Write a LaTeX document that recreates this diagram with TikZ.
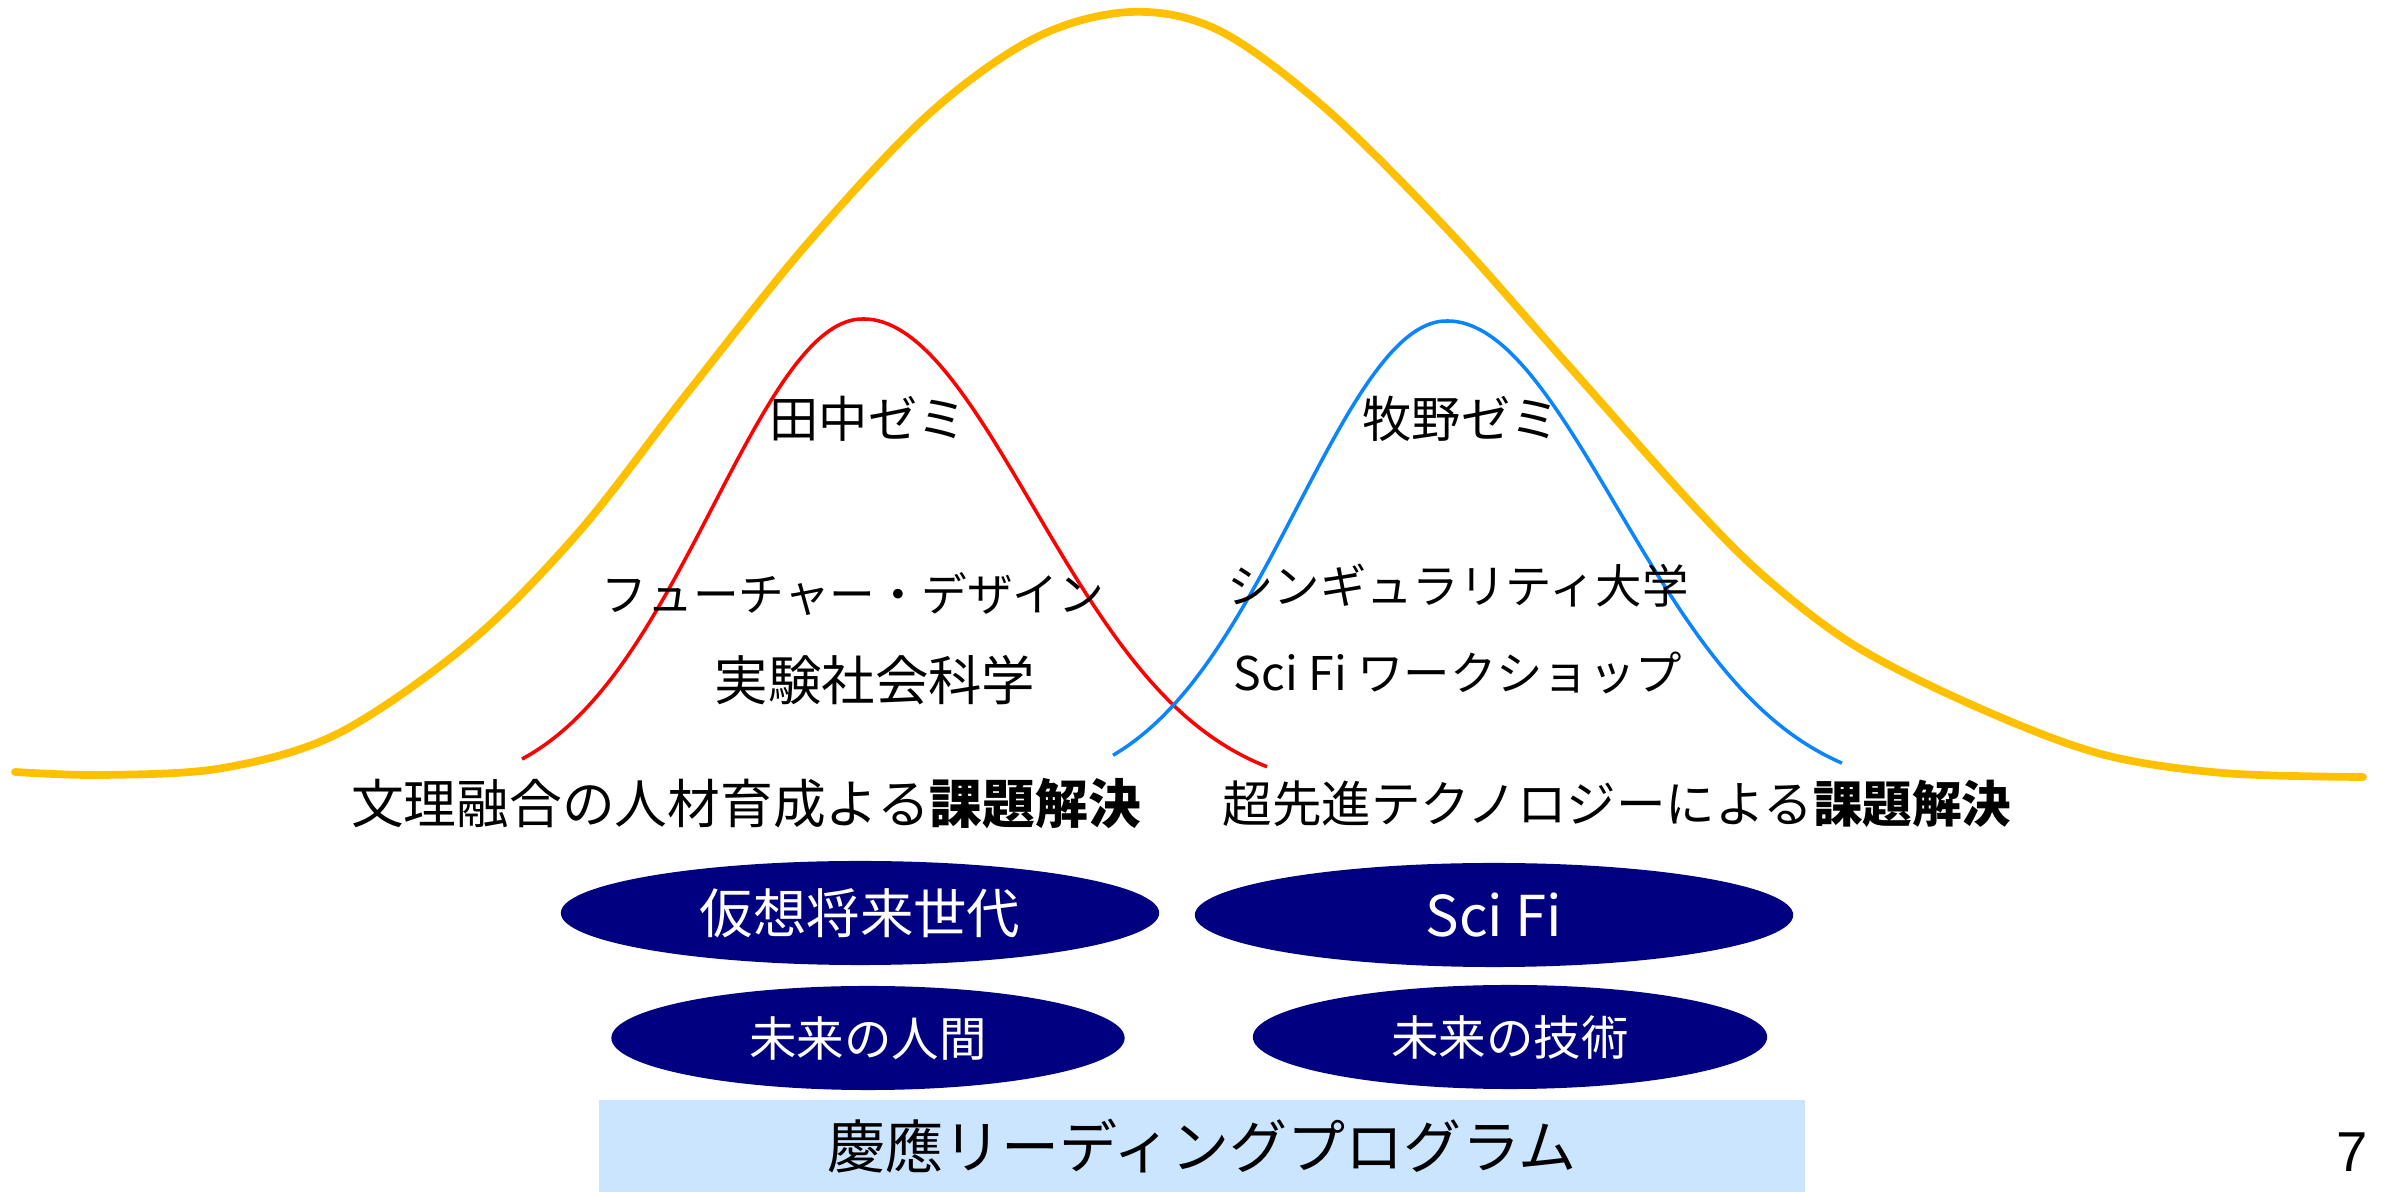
\documentclass[tikz,border=0pt]{standalone}
\usepackage{fontspec}
\setmainfont{Liberation Sans}
\newfontfamily\jp{Noto Sans CJK JP}
\usetikzlibrary{shapes.geometric}
\definecolor{gold}{HTML}{FFC000}
\definecolor{redline}{HTML}{FF0000}
\definecolor{blueline}{HTML}{0A84FF}
\definecolor{navyfill}{HTML}{000080}
\definecolor{boxblue}{HTML}{CCE5FF}
\newcommand{\jpsize}[1]{\jp\fontsize{#1}{#1}\selectfont}
\tikzset{
  lbl/.style={inner sep=0pt, font=\jpsize{14}},
  oval/.style={ellipse, fill=navyfill, text=white, inner sep=0pt, minimum height=1.04cm, font=\jpsize{14.5}},
  curvey/.style={gold, line width=2.2pt, line cap=round},
  curver/.style={redline, line width=1pt},
  curveb/.style={blueline, line width=1pt},
}
\begin{document}
\begin{tikzpicture}[x=0.01cm,y=-0.01cm]
\useasboundingbox (0,0) rectangle (2387,1192);
% big yellow curve
\draw[curvey] plot[smooth, tension=0.55] coordinates {
 (15,772) (103,775) (223,768) (339,733) (469,643) (578,533) (685,396) (807,244)
 (929,114) (1035,38) (1130,12) (1218,30) (1324,107) (1446,228) (1568,365)
 (1690,502) (1766,578) (1857,647) (1979,708) (2101,754) (2223,773) (2363,777)};
% red curve (two half bells)
\draw[curver] plot[domain=522:863, samples=70, smooth] (\x,{795-476*exp(-0.5*((\x-863)/150)^2)})
  -- plot[domain=863:1267, samples=80, smooth] (\x,{795-476*exp(-0.5*((\x-863)/170)^2)});
% blue curve
\draw[curveb] plot[domain=1113:1447, samples=70, smooth] (\x,{795-474*exp(-0.5*((\x-1447)/150)^2)})
  -- plot[domain=1447:1842, samples=80, smooth] (\x,{795-474*exp(-0.5*((\x-1447)/170)^2)});
% labels
\node[lbl] (tanaka) at (868,419) {田中ゼミ};
\node[lbl] (makino) at (1461,419) {牧野ゼミ};
\node[lbl, font=\jpsize{13}] (fd) at (853,594) {フューチャー・デザイン};
\node[lbl, font=\jpsize{15.2}] (jk) at (875,680) {実験社会科学};
\node[lbl, font=\jpsize{13.2}] (su) at (1458,586) {シンギュラリティ大学};
\node[lbl, font=\jpsize{13.2}] (sw) at (1458,673) {Sci Fi ワークショップ};
\node[lbl, font=\jpsize{15}] (left) at (746,804) {文理融合の人材育成よる{\bfseries 課題解決}};
\node[lbl, font=\jpsize{14.1}] (right) at (1617,804) {超先進テクノロジーによる{\bfseries 課題解決}};
% ellipses
\node[oval, minimum width=5.98cm, font=\jpsize{15.2}] (e1) at (860,913) {仮想将来世代};
\node[oval, minimum width=5.98cm, font=\jpsize{16}] (e2) at (1494,915) {Sci Fi};
\node[oval, minimum width=5.13cm, font=\jpsize{13.5}] (e3) at (868,1038) {未来の人間};
\node[oval, minimum width=5.14cm, font=\jpsize{13.5}] (e4) at (1510,1037) {未来の技術};
% bottom box
\node[fill=boxblue, minimum width=12.06cm, minimum height=0.93cm, inner sep=0pt, anchor=north west] (box) at (598,1099) {};
\node[inner sep=0pt, font=\jpsize{16.5}] (prog) at (box.center) {慶應リーディングプログラム};
\node[inner sep=0pt, font=\fontsize{16}{16}\selectfont] (page) at (2352,1152) {7};
\end{tikzpicture}
\end{document}
